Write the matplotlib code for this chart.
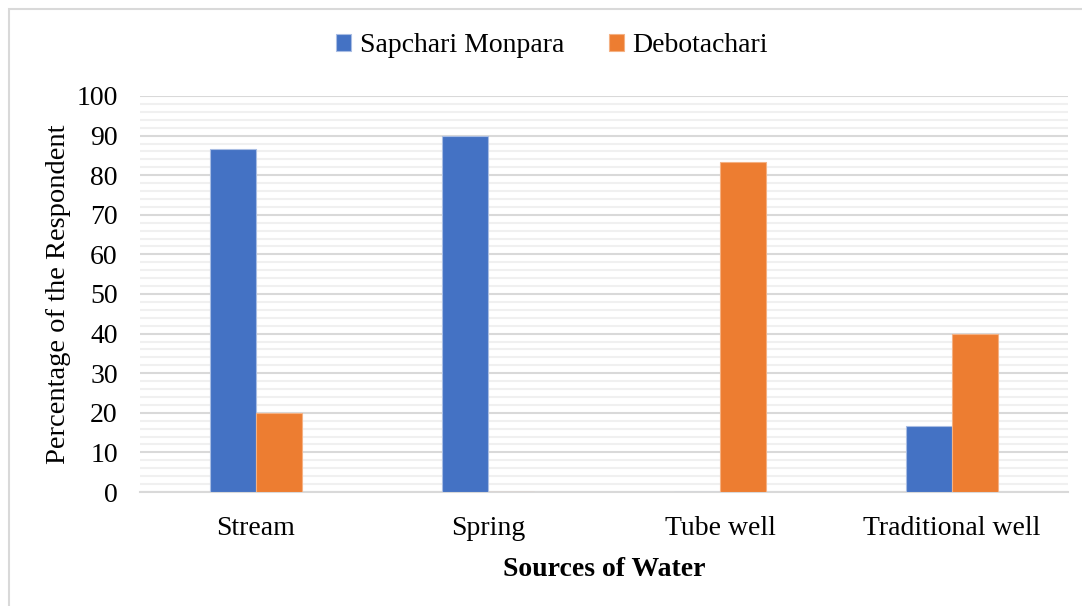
import matplotlib.pyplot as plt
import numpy as np
from matplotlib.patches import Rectangle

plt.rcParams['font.family'] = ['Liberation Serif', 'DejaVu Serif']

categories = ['Stream', 'Spring', 'Tube well', 'Traditional well']
sapchari = [86.7, 90, 0, 16.7]
debotachari = [20, 0, 83.3, 40]
series_names = ['Sapchari Monpara', 'Debotachari']
colors = ['#4472C4', '#ED7D31']

fig = plt.figure(figsize=(10.82, 6.06), dpi=100)
ax = fig.add_axes([140/1082, 114/606, 928/1082, 396/606])

x = np.arange(len(categories))
w = 0.2
ax.bar(x - w/2, sapchari, w, color=colors[0], label=series_names[0], zorder=3,
       edgecolor='#a9bde3', linewidth=0.8)
ax.bar(x + w/2, debotachari, w, color=colors[1], label=series_names[1], zorder=3,
       edgecolor='#f4b183', linewidth=0.8)

ax.set_xlim(-0.5, 3.5)
ax.set_ylim(0, 100)
ax.set_yticks(np.arange(0, 101, 10))
ax.set_yticks(np.arange(0, 101, 2), minor=True)
ax.grid(axis='y', which='minor', color='#f0f0f0', linewidth=1.5, zorder=0)
ax.grid(axis='y', which='major', color='#d9d9d9', linewidth=1.5, zorder=1)
ax.tick_params(axis='y', which='both', length=0, labelsize=20, pad=16)
ax.tick_params(axis='x', length=0, labelsize=20, pad=17)
ax.set_xticks(x)
ax.set_xticklabels(categories)
for s in ['top', 'right', 'left']:
    ax.spines[s].set_visible(False)
ax.spines['bottom'].set_color('#d9d9d9')
ax.spines['bottom'].set_linewidth(1.5)

ax.set_xlabel('Sources of Water', fontsize=20, fontweight='bold', labelpad=12)
ax.set_ylabel('Percentage of the Respondent', fontsize=20.5, labelpad=4)

fig.legend(loc='center', bbox_to_anchor=(0.5 + 11/1082, 1 - 46/606), ncol=2, frameon=False,
           fontsize=20, handlelength=0.55, handleheight=0.55, handletextpad=0.3,
           columnspacing=1.6)

fig.patches.append(Rectangle((9/1082, -0.1), 1.2, 1.1 - 9/606, transform=fig.transFigure,
                             fill=False, edgecolor='#d9d9d9', linewidth=1.5))

fig.savefig('out.png', dpi=100)
